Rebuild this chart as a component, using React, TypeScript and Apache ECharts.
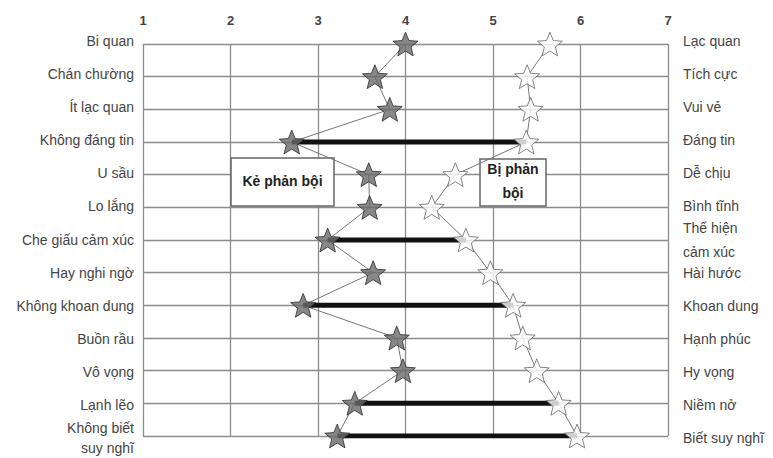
import React, { useEffect, useRef } from "react";
import * as echarts from "echarts";

const leftLabels = [
  "Bi quan",
  "Chán chường",
  "Ít lạc quan",
  "Không đáng tin",
  "U sầu",
  "Lo lắng",
  "Che giấu cảm xúc",
  "Hay nghi ngờ",
  "Không khoan dung",
  "Buồn rầu",
  "Vô vọng",
  "Lạnh lẽo",
  "Không biết\nsuy nghĩ",
];

const rightLabels = [
  "Lạc quan",
  "Tích cực",
  "Vui vẻ",
  "Đáng tin",
  "Dễ chịu",
  "Bình tĩnh",
  "Thể hiện\ncảm xúc",
  "Hài hước",
  "Khoan dung",
  "Hạnh phúc",
  "Hy vọng",
  "Niềm nở",
  "Biết suy nghĩ",
];

// Kẻ phản bội (betrayer) – dark stars
const betrayerValues = [4.0, 3.65, 3.82, 2.7, 3.58, 3.59, 3.11, 3.63, 2.83, 3.9, 3.97, 3.42, 3.22];
// Bị phản bội (betrayed) – white stars
const betrayedValues = [5.65, 5.39, 5.43, 5.38, 4.57, 4.3, 4.69, 4.97, 5.23, 5.34, 5.5, 5.75, 5.96];
// rows joined by a thick bar
const linkedRows = [3, 6, 8, 11, 12];

const xTicks = [1, 2, 3, 4, 5, 6, 7];

const STAR =
  "path://M50 0 L62.93 32.2 L97.55 34.55 L70.92 56.8 L79.39 90.45 L50 72 L20.61 90.45 L29.08 56.8 L2.45 34.55 L37.07 32.2 Z";

const FONT = "'Liberation Sans', Arial, sans-serif";

export default function App() {
  const ref = useRef<HTMLDivElement>(null);

  useEffect(() => {
    document.body.style.margin = "0";
    if (!ref.current) return;
    const chart = echarts.init(ref.current, null, { renderer: "svg" });

    const rowIdx = leftLabels.map((_, i) => i);
    const darkData = betrayerValues.map((v, i) => [v, rowIdx[i]]);
    const whiteData = betrayedValues.map((v, i) => [v, rowIdx[i]]);

    const linkSeries = linkedRows.map((r) => ({
      type: "line",
      xAxisIndex: 0,
      yAxisIndex: 0,
      data: [
        [betrayerValues[r], r],
        [betrayedValues[r], r],
      ],
      symbol: "none",
      lineStyle: { color: "#111", width: 5 },
      z: 3,
      silent: true,
    }));

    const option: any = {
      animation: false,
      backgroundColor: "#fff",
      textStyle: { fontFamily: FONT },
      grid: [
        { left: 143, right: 105, top: 44, bottom: 22 },
        { left: 143, right: 105, top: 41, bottom: 17 },
      ],
      xAxis: [
        {
          type: "value",
          gridIndex: 0,
          position: "top",
          min: 1,
          max: 7,
          interval: 1,
          axisLine: { show: false },
          axisTick: { show: false },
          axisLabel: {
            margin: 17,
            color: "#444",
            fontSize: 13,
            fontWeight: "bold",
            fontFamily: FONT,
            formatter: (v: number) => (xTicks.includes(v) ? String(v) : ""),
          },
          splitLine: { show: true, lineStyle: { color: "#8c8c8c", width: 1.3 } },
        },
        {
          type: "value",
          gridIndex: 1,
          min: 1,
          max: 7,
          show: false,
        },
      ],
      yAxis: [
        {
          type: "category",
          gridIndex: 0,
          data: leftLabels,
          inverse: true,
          boundaryGap: false,
          axisLine: { show: false },
          axisTick: { show: false },
          axisLabel: { show: false },
          splitLine: { show: true, lineStyle: { color: "#8c8c8c", width: 1.3 } },
        },
        {
          type: "category",
          gridIndex: 1,
          data: leftLabels,
          inverse: true,
          boundaryGap: false,
          position: "left",
          axisLine: { show: false },
          axisTick: { show: false },
          splitLine: { show: false },
          axisLabel: {
            margin: 9,
            color: "#444",
            fontSize: 14,
            fontFamily: FONT,
            lineHeight: 20,
            interval: 0,
          },
        },
        {
          type: "category",
          gridIndex: 1,
          data: rightLabels,
          inverse: true,
          boundaryGap: false,
          position: "right",
          axisLine: { show: false },
          axisTick: { show: false },
          splitLine: { show: false },
          axisLabel: {
            margin: 15,
            color: "#444",
            fontSize: 14,
            fontFamily: FONT,
            lineHeight: 24,
            interval: 0,
          },
        },
      ],
      series: [
        {
          type: "line",
          xAxisIndex: 0,
          yAxisIndex: 0,
          data: darkData,
          symbol: "none",
          lineStyle: { color: "#777", width: 1 },
          z: 2,
          silent: true,
        },
        {
          type: "line",
          xAxisIndex: 0,
          yAxisIndex: 0,
          data: whiteData,
          symbol: "none",
          lineStyle: { color: "#777", width: 1 },
          z: 2,
          silent: true,
        },
        ...linkSeries,
        {
          type: "scatter",
          xAxisIndex: 0,
          yAxisIndex: 0,
          data: darkData,
          symbol: STAR,
          symbolSize: 25,
          symbolKeepAspect: true,
          itemStyle: { color: "#6a6a6a", borderColor: "#2a2a2a", borderWidth: 1 },
          z: 5,
        },
        {
          type: "scatter",
          xAxisIndex: 0,
          yAxisIndex: 0,
          data: whiteData,
          symbol: STAR,
          symbolSize: 25,
          symbolKeepAspect: true,
          itemStyle: { color: "#fff", borderColor: "#666", borderWidth: 1 },
          z: 5,
        },
      ],
      graphic: [
        {
          type: "rect",
          shape: { x: 231, y: 158, width: 103, height: 48 },
          style: { fill: "#fff", stroke: "#666", lineWidth: 1.5 },
          z: 1,
        },
        {
          type: "text",
          x: 282.5,
          y: 181,
          style: {
            text: "Kẻ phản bội",
            fill: "#222",
            font: `bold 14px ${FONT}`,
            align: "center",
            verticalAlign: "middle",
          },
          z: 1,
        },
        {
          type: "rect",
          shape: { x: 480, y: 159, width: 66, height: 47 },
          style: { fill: "#fff", stroke: "#666", lineWidth: 1.5 },
          z: 1,
        },
        {
          type: "text",
          x: 513,
          y: 181,
          style: {
            text: "Bị phản\nbội",
            fill: "#222",
            font: `bold 14px ${FONT}`,
            lineHeight: 24,
            align: "center",
            verticalAlign: "middle",
          },
          z: 1,
        },
      ],
    };

    chart.setOption(option);
    return () => chart.dispose();
  }, []);

  return <div ref={ref} style={{ width: 773, height: 458 }} />;
}
